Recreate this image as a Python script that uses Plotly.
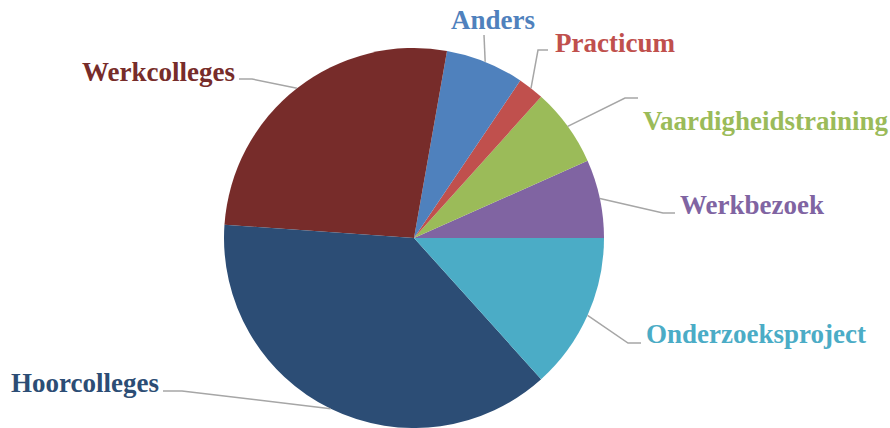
"""
Taartdiagram onderwijsvormen (Plotly)
"""
import math
import plotly.graph_objects as go

# data
labels = ["Werkbezoek", "Vaardigheidstraining", "Practicum", "Anders",
          "Werkcolleges", "Hoorcolleges", "Onderzoeksproject"]
values = [3, 3, 1, 3, 12, 17, 6]
colors = ["#8064A2", "#9BBB59", "#C0504D", "#4F81BD",
          "#772C2A", "#2C4D75", "#4BACC6"]

W, H = 890, 428
CX, CY, R = 414, 238, 190  # taart in pixels

# label layout: (tekst-x, tekst-y, anker, knikpunt-x, knikpunt-y, eindpunt-x)
label_layout = {
    "Werkbezoek": (678, 205, "left", 663, 213, 675),
    "Vaardigheidstraining": (641, 121, "left", 625, 98, 638),
    "Practicum": (553, 43, "left", 538, 50, 548),
    "Anders": (493, 20, "center", 484, 35, 484),
    "Werkcolleges": (237, 72, "right", 252, 79, 239),
    "Hoorcolleges": (161, 383, "right", 182, 391, 163),
    "Onderzoeksproject": (644, 334, "left", 628, 343, 641),
}


def px(x):
    return x / W


def py(y):
    return 1 - y / H


total = sum(values)
# plotly draait tegen de klok in vanaf het einde van de eerste sector
rot = 90 - 360 * values[0] / total

fig = go.Figure(go.Pie(
    labels=labels, values=values,
    marker=dict(colors=colors, line=dict(width=0)),
    sort=False, direction="counterclockwise", rotation=rot,
    textinfo="none", hoverinfo="label+percent",
    domain=dict(x=[px(CX - R), px(CX + R)], y=[py(CY + R), py(CY - R)]),
    showlegend=False,
))

cum = 0
for lab, val, col in zip(labels, values, colors):
    mid = (cum + val / 2) / total * 2 * math.pi
    cum += val
    ex = CX + R * math.cos(mid)
    ey = CY - R * math.sin(mid)
    tx, ty, anchor, kx, ky, hx = label_layout[lab]
    fig.add_shape(
        type="path", xref="paper", yref="paper",
        path=f"M {px(ex)},{py(ey)} L {px(kx)},{py(ky)} L {px(hx)},{py(ky)}",
        line=dict(color="#A6A6A6", width=1.5),
    )
    fig.add_annotation(
        x=px(tx), y=py(ty), xref="paper", yref="paper",
        text=lab, showarrow=False, xanchor=anchor, yanchor="middle",
        font=dict(family="Liberation Serif, Times New Roman, serif",
                  size=27, color=col, weight="bold"),
    )

fig.update_layout(
    width=W, height=H,
    margin=dict(l=0, r=0, t=0, b=0),
    paper_bgcolor="white", plot_bgcolor="white",
)
fig.write_html("out.html", config={"displayModeBar": False},
               post_script="document.body.style.margin='0';")
